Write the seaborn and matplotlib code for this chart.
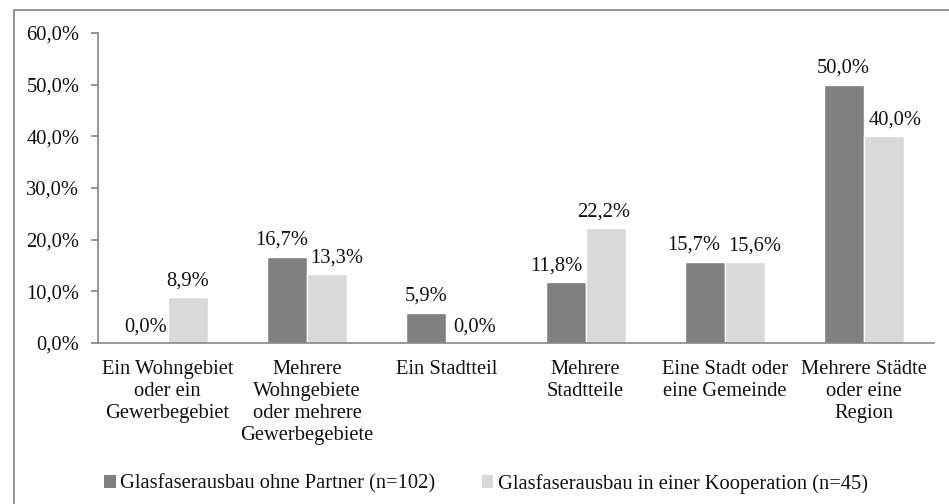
import numpy as np
import pandas as pd
import matplotlib.pyplot as plt
import seaborn as sns
from matplotlib.patches import Patch

categories = ["Ein Wohngebiet\noder ein\nGewerbegebiet",
              "Mehrere\nWohngebiete\noder mehrere\nGewerbegebiete",
              "Ein Stadtteil",
              "Mehrere\nStadtteile",
              "Eine Stadt oder\neine Gemeinde",
              "Mehrere Städte\noder eine\nRegion"]
series = ["Glasfaserausbau ohne Partner (n=102)",
          "Glasfaserausbau in einer Kooperation (n=45)"]
ohne_partner = [0.0, 16.7, 5.9, 11.8, 15.7, 50.0]
kooperation = [8.9, 13.3, 0.0, 22.2, 15.6, 40.0]
yticks = [0, 10, 20, 30, 40, 50, 60]

df = pd.DataFrame({
    "Kategorie": categories * 2,
    "Serie": [series[0]] * 6 + [series[1]] * 6,
    "Wert": ohne_partner + kooperation,
})

sns.set_theme(style="white")
plt.rcParams['font.family'] = ['Liberation Serif', 'DejaVu Serif']
colors = ["#808080", "#d9d9d9"]
axcol = "#868686"
txtcol = "#111111"
fs = 14.8

fig = plt.figure(figsize=(9.49, 5.04), dpi=100)
ax = fig.add_axes([0.1033, 0.3194, 0.8807, 0.6151])
sns.barplot(data=df, x="Kategorie", y="Wert", hue="Serie", palette=colors,
            width=0.574, gap=0, saturation=1, ax=ax, legend=False)

# small horizontal nudges (px) like Excel does to keep labels apart
nudges = [[-2, -5, 0, -9, -11, -1], [0, 10, 8, -2, 10, 11]]
for cont, nd in zip(ax.containers, nudges):
    anns = ax.bar_label(cont, labels=[f"{v:.1f}%".replace(".", ",") for v in cont.datavalues],
                        padding=5, fontsize=fs, color=txtcol)
    for a, dx in zip(anns, nd):
        a.xyann = (dx * 0.72, a.xyann[1])

ax.set_ylim(0, 60)
ax.set_xlim(-0.5, 5.5)
ax.set_yticks(yticks)
ax.set_yticklabels([f"{v:.1f}%".replace(".", ",") for v in yticks], fontsize=fs, color=txtcol)
ax.set_xticks(range(6))
ax.set_xticklabels(categories, fontsize=fs, color=txtcol, linespacing=1.22)
ax.set_xticks(np.arange(-0.5, 6, 1), minor=True)
ax.tick_params(axis="x", which="major", length=0, pad=12)
ax.tick_params(axis="x", which="minor", length=5, color=axcol, direction="out")
ax.tick_params(axis="y", length=5, color=axcol, direction="out", left=True, pad=8.5)
ax.set_xlabel("")
ax.set_ylabel("")
for s in ["top", "right"]:
    ax.spines[s].set_visible(False)
for s in ["left", "bottom"]:
    ax.spines[s].set_color(axcol)
    ax.spines[s].set_linewidth(1.2)

handles = [Patch(facecolor=c, edgecolor="none") for c in colors]
fig.legend(handles, series, loc="center left", bbox_to_anchor=(0.0904, 0.04), ncol=2,
           frameon=False, fontsize=fs, handlelength=0.55, handleheight=0.55,
           handletextpad=0.2, columnspacing=2.3, labelcolor=txtcol)

# chart area border (top and left edges visible)
fig.add_artist(plt.Line2D([0.0143, 1.0], [0.9802, 0.9802], color="#8c8c8c", lw=1.3, transform=fig.transFigure))
fig.add_artist(plt.Line2D([0.0143, 0.0143], [0.0, 0.9802], color="#8c8c8c", lw=1.3, transform=fig.transFigure))

fig.savefig("out.png", dpi=100)
